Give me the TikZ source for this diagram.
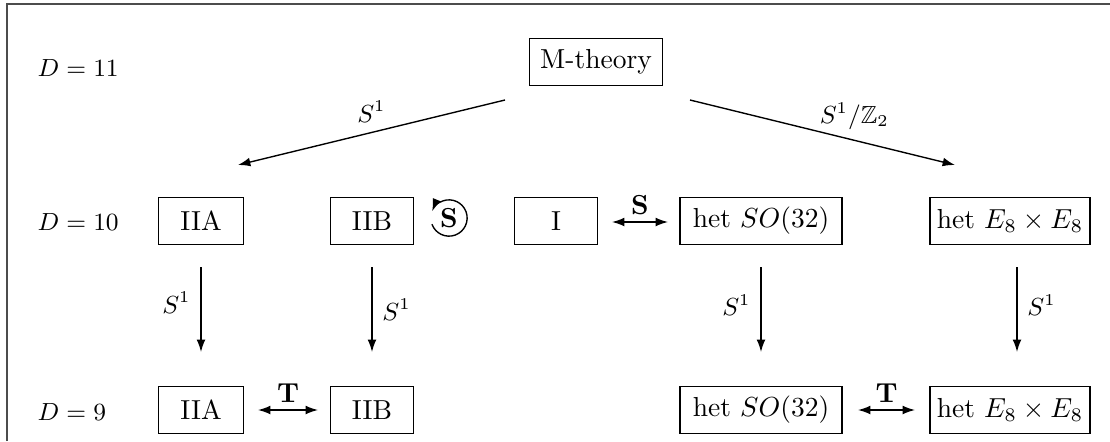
\documentclass[tikz,border=0pt]{standalone}
\usepackage{amssymb}
\usetikzlibrary{arrows.meta}
\begin{document}
\begin{tikzpicture}[x={(0.3636pt,0)}, y={(0,-0.3636pt)},
  box/.style={draw, line width=0.5pt, minimum height=17pt, minimum width=31pt, inner sep=2pt},
  arr/.style={-{Latex[length=4.5pt,width=3.2pt]}, line width=0.5pt},
  darr/.style={{Latex[length=4.5pt,width=3.2pt]}-{Latex[length=4.5pt,width=3.2pt]}, line width=0.5pt},
  lbl/.style={inner sep=1.5pt, font=\small}]
\useasboundingbox (0,0) rectangle (1110,441);
\draw[black!70, line width=0.8pt] (7,441) -- (7,4) -- (1110,4);

% dimension labels
\node[lbl, anchor=west] (d11) at (33,68) {$D=11$};
\node[lbl, anchor=west] (d10) at (33,222) {$D=10$};
\node[lbl, anchor=west] (d9) at (33,412) {$D=9$};

% nodes
\node[box, minimum width=48.4pt] (M) at (596,62) {M-theory};
\node[box] (IIAa) at (201,221) {IIA};
\node[box, minimum width=30pt] (IIBa) at (372,221) {IIB};
\node[box, minimum width=30pt] (I) at (556,221) {I};
\node[box, minimum width=58.9pt] (SOa) at (761,221) {het $SO(32)$};
\node[box, minimum width=58.2pt] (Ea) at (1010,221) {het $E_8\times E_8$};

\node[box] (IIAb) at (201,410) {IIA};
\node[box, minimum width=30pt] (IIBb) at (372,410) {IIB};
\node[box, minimum width=58.9pt] (SOb) at (761,410) {het $SO(32)$};
\node[box, minimum width=58.2pt] (Eb) at (1010,410) {het $E_8\times E_8$};

% end points
\coordinate (m1) at (505,100);
\coordinate (m1e) at (238,165);
\coordinate (m2) at (690,100);
\coordinate (m2e) at (955,165);
\coordinate (v1s) at (201,267); \coordinate (v1e) at (201,352);
\coordinate (v2s) at (372,267); \coordinate (v2e) at (372,352);
\coordinate (v3s) at (761,267); \coordinate (v3e) at (761,352);
\coordinate (v4s) at (1017,267); \coordinate (v4e) at (1017,352);
\coordinate (h1s) at (612,222); \coordinate (h1e) at (668,222);
\coordinate (h2s) at (258,410); \coordinate (h2e) at (318,410);
\coordinate (h3s) at (858,410); \coordinate (h3e) at (915,410);

\draw[arr] (m1) -- node[lbl, above=2pt, pos=0.5] {$S^1$} (m1e);
\draw[arr] (m2) -- node[lbl, above=2pt, pos=0.62] {$S^1/\mathbb{Z}_2$} (m2e);

\draw[arr] (v1s) -- node[lbl, left=2pt, pos=0.42] {$S^1$} (v1e);
\draw[arr] (v2s) -- node[lbl, right=2pt, pos=0.5] {$S^1$} (v2e);
\draw[arr] (v3s) -- node[lbl, left=2pt, pos=0.45] {$S^1$} (v3e);
\draw[arr] (v4s) -- node[lbl, right=2pt, pos=0.45] {$S^1$} (v4e);

\draw[darr] (h1s) -- node[lbl, above=1pt, font=\normalsize] {\textbf{S}} (h1e);
\draw[darr] (h2s) -- node[lbl, above=1pt, font=\normalsize] {\textbf{T}} (h2e);
\draw[darr] (h3s) -- node[lbl, above=1pt, font=\normalsize] {\textbf{T}} (h3e);

% self-duality circle
\begin{scope}[shift={(449,218)}, x=1pt, y=1pt]
  \node[inner sep=0pt] (sd) at (0,0) {\textbf{S}};
  \draw[arr] (200:6.6) arc[start angle=200, end angle=518, radius=6.6];
\end{scope}
\end{tikzpicture}
\end{document}
